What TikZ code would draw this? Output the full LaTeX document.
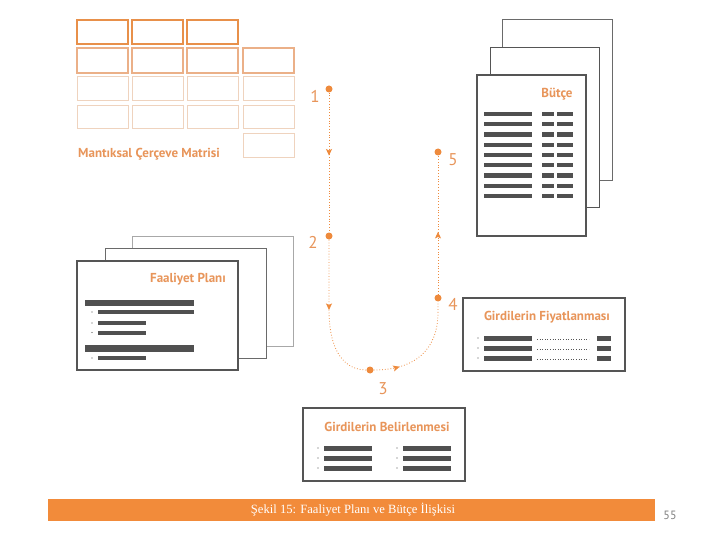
\documentclass[tikz,border=0pt]{standalone}
\usepackage{fontspec}
\setmainfont{Liberation Serif}
\newfontfamily\labfont{PT Sans}
\usetikzlibrary{arrows.meta,decorations.markings}
\definecolor{matA}{HTML}{E8904A}
\definecolor{matB}{HTML}{EBB088}
\definecolor{matC}{HTML}{EFD3BE}
\definecolor{orng}{HTML}{EE8A3C}
\definecolor{labor}{HTML}{E8955A}
\definecolor{footor}{HTML}{F28B3A}
\definecolor{bar}{HTML}{505050}
\definecolor{pgdark}{HTML}{555555}
\definecolor{pgmid}{HTML}{6A6A6A}
\definecolor{pglight}{HTML}{A8A8A8}
\tikzset{
  cellA/.style={draw=matA, line width=1.8pt},
  cellB/.style={draw=matB, line width=1.1pt},
  cellC/.style={draw=matC, line width=1pt},
  page/.style={draw=#1, fill=white, line width=1pt},
  frontpage/.style={draw=pgdark, fill=white, line width=1.6pt},
  barfill/.style={fill=bar},
  title/.style={font=\labfont\bfseries\fontsize{13}{15}\selectfont, text=labor, inner sep=0pt},
  num/.style={font=\labfont\fontsize{17}{19}\selectfont, text=labor, inner sep=0pt},
  pdot/.style={circle, fill=orng, minimum size=7pt, inner sep=0pt},
  flow/.style={draw=orng, line width=0.8pt, dotted},
  midarrow/.style={postaction={decorate, decoration={markings,
      mark=at position #1 with {\arrow[orng, solid]{Stealth[length=6.5pt,width=6pt,inset=1.5pt]}}}}},
  bul/.style={fill=bar},
}
\begin{document}
\begin{tikzpicture}[x=1pt,y=-1pt]
\useasboundingbox (0,0) rectangle (720,540);
\fill[white] (0,0) rectangle (720,540);

% ---- Matrix ----
\foreach \x in {77,132,187} \draw[cellA] (\x,20) rectangle ++(51,24);
\foreach \x in {77,132,187,243} \draw[cellB] (\x,48) rectangle ++(51,25);
\foreach \x in {77,132,187,243} \draw[cellC] (\x,77) rectangle ++(51,24);
\foreach \x in {77,132,187,243} \draw[cellC] (\x,106) rectangle ++(51,23);
\draw[cellC] (243,134) rectangle ++(51,24);
\node[title, anchor=west] (mlabel) at (78,154) {Mantıksal Çerçeve Matrisi};

% ---- Bütçe pages ----
\draw[page=pgmid] (502,20) rectangle (612,181);
\draw[page=pgdark] (490,48) rectangle (599,208);
\draw[frontpage] (477,75) rectangle (586,236);
\node[title] (butce) at (557,94) {Bütçe};
\foreach \i in {0,...,8}{
  \pgfmathsetmacro{\yy}{114+10.25*\i}
  \fill[barfill] (484,\yy-2.2) rectangle (532,\yy+2.2);
  \fill[barfill] (542,\yy-2.2) rectangle (554,\yy+2.2);
  \fill[barfill] (557,\yy-2.2) rectangle (573,\yy+2.2);
}

% ---- Faaliyet Planı pages ----
\draw[page=pglight] (132,236) rectangle (293,346);
\draw[page=pgmid] (105,248) rectangle (266,358);
\draw[frontpage] (77,261) rectangle (238,370);
\node[title] (fplan) at (188,279) {Faaliyet Planı};
\fill[barfill] (85,299.5) rectangle (194,306);
\fill[barfill] (98,310) rectangle (194,314);
\fill[barfill] (98,321) rectangle (146,325);
\fill[barfill] (98,330.5) rectangle (146,334.5);
\fill[barfill] (85,345) rectangle (194,351.5);
\fill[barfill] (98,356) rectangle (146,360);
\foreach \yy in {312,323,332.5,358} \fill[bul] (92,\yy) circle (0.7);

% ---- Girdilerin Fiyatlanması ----
\draw[frontpage] (463,298) rectangle (625,371);
\node[title] (fiyat) at (547,317) {Girdilerin Fiyatlanması};
\foreach \yy in {338,348,358}{
  \fill[bul] (478,\yy) circle (0.7);
  \fill[barfill] (484,\yy-2.5) rectangle (532,\yy+2.5);
  \draw[pgdark, line width=0.6pt, dotted] (537,\yy+1.5) -- (589,\yy+1.5);
  \fill[barfill] (597,\yy-2.5) rectangle (611,\yy+2.5);
}

% ---- Girdilerin Belirlenmesi ----
\draw[frontpage] (303,408) rectangle (465,481);
\node[title] (belir) at (387,427) {Girdilerin Belirlenmesi};
\foreach \yy in {448,458,468}{
  \fill[bul] (318,\yy) circle (0.7);
  \fill[barfill] (324,\yy-2.5) rectangle (372,\yy+2.5);
  \fill[bul] (397,\yy) circle (0.7);
  \fill[barfill] (403,\yy-2.5) rectangle (451,\yy+2.5);
}

% ---- Flow ----
\node[pdot] (p1) at (329,89) {};
\node[pdot] (p2) at (329,236) {};
\node[pdot] (p3) at (370,370) {};
\node[pdot] (p4) at (438,298) {};
\node[pdot] (p5) at (438,152) {};
\node[num] (l1) at (315,96) {1};
\node[num] (l2) at (313,242) {2};
\node[num] (l3) at (383,389) {3};
\node[num] (l4) at (453,304) {4};
\node[num] (l5) at (453,160) {5};

\draw[flow, midarrow=0.45] (p1) -- (p2);
\draw[flow, midarrow=0.47] (p2) -- (329,310) .. controls (329,352) and (345,370) .. (p3);
\draw[flow, midarrow=0.24] (p3) .. controls (415,370) and (438,350) .. (438,312) -- (p4);
\draw[flow, midarrow=0.45] (p4) -- (p5);

% ---- Footer ----
\fill[footor] (48,499) rectangle (655,521);
\node[text=white, font=\fontsize{12.6}{14}\selectfont, inner sep=0pt] (cap) at (353,510) {Şekil 15: Faaliyet Planı ve Bütçe İlişkisi};
\node[text=gray, font=\labfont\fontsize{12}{14}\selectfont, inner sep=0pt] (pnum) at (670,515) {55};
\end{tikzpicture}
\end{document}
